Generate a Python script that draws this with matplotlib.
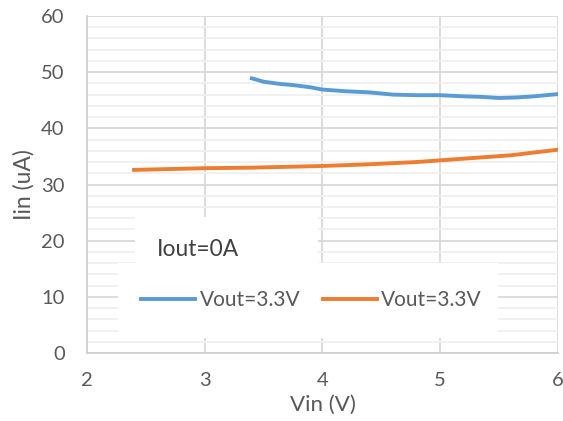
import matplotlib.pyplot as plt
from matplotlib.patches import Rectangle
from matplotlib.ticker import MultipleLocator

plt.rcParams["font.family"] = ["Lato", "DejaVu Sans"]

# Iin vs Vin, Iout = 0A
vin_blue = [3.4, 3.5, 3.64, 3.75, 3.9, 4.0, 4.2, 4.4, 4.6, 4.8, 5.0, 5.2, 5.35, 5.5, 5.65, 5.8, 6.0]
iin_blue = [48.9, 48.3, 47.9, 47.7, 47.3, 46.9, 46.6, 46.4, 46.0, 45.9, 45.9, 45.7, 45.6, 45.4, 45.5, 45.7, 46.1]
vin_orange = [2.4, 2.6, 3.0, 3.4, 3.8, 4.0, 4.4, 4.8, 5.0, 5.2, 5.4, 5.6, 5.8, 6.0]
iin_orange = [32.6, 32.7, 32.9, 33.0, 33.2, 33.3, 33.6, 34.0, 34.3, 34.6, 34.9, 35.2, 35.7, 36.2]
series_labels = ["Vout=3.3V", "Vout=3.3V"]
note = "Iout=0A"

text_color = "#595959"
blue = "#5b9bd5"
orange = "#ed7d31"

fig = plt.figure(figsize=(5.63, 4.21), dpi=100)
ax = fig.add_axes([0.1545, 0.1615, 0.8365, 0.8005])

ax.set_xlim(2, 6)
ax.set_ylim(0, 60)
ax.xaxis.set_major_locator(MultipleLocator(1))
ax.yaxis.set_major_locator(MultipleLocator(10))
ax.yaxis.set_minor_locator(MultipleLocator(2))
ax.grid(which="major", color="#d9d9d9", linewidth=1.3, zorder=0)
ax.grid(which="minor", axis="y", color="#f0f0f0", linewidth=1.3, zorder=0)
ax.set_axisbelow(True)

for side in ["top", "right"]:
    ax.spines[side].set_visible(False)
for side in ["left", "bottom"]:
    ax.spines[side].set_color("#d0d0d0")
    ax.spines[side].set_linewidth(1.3)
ax.tick_params(which="both", length=0, labelsize=14.5, colors=text_color)
ax.tick_params(axis="y", pad=16)
ax.tick_params(axis="x", pad=14)

ax.plot(vin_blue, iin_blue, color=blue, linewidth=2.8, label=series_labels[0], zorder=3)
ax.plot(vin_orange, iin_orange, color=orange, linewidth=2.8, label=series_labels[1], zorder=3)

# white boxes behind the note and the legend
ax.add_patch(Rectangle((0.102, 0.267), 0.388, 0.137, transform=ax.transAxes,
                       facecolor="white", edgecolor="none", zorder=1))
ax.add_patch(Rectangle((0.066, 0.045), 0.807, 0.222, transform=ax.transAxes,
                       facecolor="white", edgecolor="none", zorder=1))
ax.text(0.149, 0.306, note, transform=ax.transAxes, fontsize=16.4,
        color="#404040", va="center", zorder=4)
ax.legend(loc="center", bbox_to_anchor=(0.477, 0.157), ncol=2, frameon=False,
          fontsize=15, handlelength=2.6, handletextpad=0.2, columnspacing=1.1,
          labelcolor=text_color)

ax.set_xlabel("Vin (V)", fontsize=16, color=text_color, labelpad=4)
ax.set_ylabel("Iin (uA)", fontsize=16.5, color=text_color, labelpad=5)

fig.savefig("out.png", dpi=100)
